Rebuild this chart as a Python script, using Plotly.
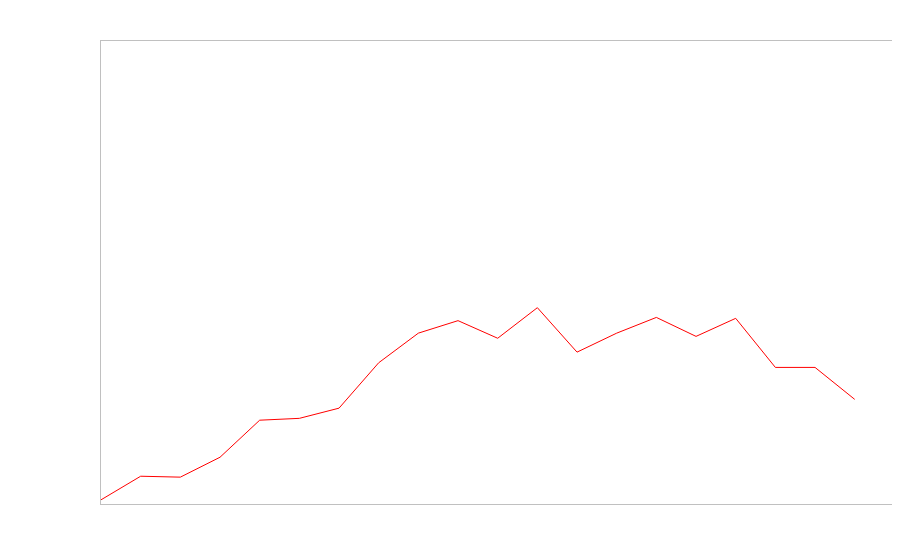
import plotly.graph_objects as go

x_index = list(range(20))
values = [0.9, 6.0, 5.8, 10.1, 18.1, 18.5, 20.7, 30.5, 36.9, 39.6,
          35.8, 42.4, 32.8, 36.9, 40.3, 36.2, 40.1, 29.5, 29.5, 22.6]

fig = go.Figure()
fig.add_trace(go.Scatter(x=x_index, y=values, mode="lines",
                         line=dict(color="#ff0000", width=1), showlegend=False,
                         hoverinfo="skip"))

axis_common = dict(showgrid=False, zeroline=False, showticklabels=False,
                   ticks="", showline=True, linecolor="#c0c0c0", linewidth=1,
                   mirror=True, fixedrange=True)
fig.update_layout(
    width=900, height=560,
    margin=dict(l=93, r=16, t=33, b=64),
    paper_bgcolor="white", plot_bgcolor="white",
    xaxis=dict(range=[0, 19.94], **axis_common),
    yaxis=dict(range=[0, 100], **axis_common),
)
fig.write_html("out.html", config={"displayModeBar": False})
